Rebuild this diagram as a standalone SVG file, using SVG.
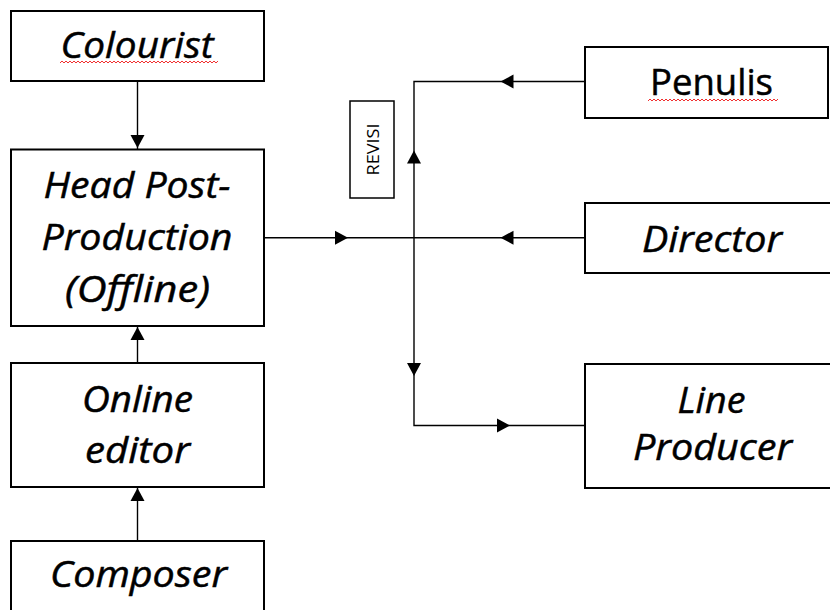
<svg xmlns="http://www.w3.org/2000/svg" xmlns:xlink="http://www.w3.org/1999/xlink" width="830" height="610" viewBox="0 0 830 610">
<style>
.box{fill:#fff;stroke:#000;stroke-width:2}
.lbl{font-family:"Open Sans","Noto Sans",sans-serif;font-size:37px;font-style:italic;fill:#000;stroke:#000;stroke-width:0.5;text-anchor:middle}
.up{font-style:normal}
.rev{font-family:"Open Sans","Noto Sans",sans-serif;font-size:16px;fill:#000;text-anchor:middle}
.con{fill:none;stroke:#000;stroke-width:1.4}
.sq{fill:none;stroke:#f03030;stroke-width:1}
</style>
<defs>
<path id="ah" d="M0,0 L-13,-7 L-13,7 Z" fill="#000"/>
</defs>
<rect width="830" height="610" fill="#fff"/>
<g id="connectors">
<line class="con" x1="137.5" y1="81" x2="137.5" y2="149"/>
<line class="con" x1="137.5" y1="363" x2="137.5" y2="326"/>
<line class="con" x1="137.5" y1="541" x2="137.5" y2="487"/>
<polyline class="con" points="585,81.5 414,81.5 414,425.5 585,425.5"/>
<line class="con" x1="264" y1="237.7" x2="585" y2="237.7"/>
<use xlink:href="#ah" transform="translate(137.5,148) rotate(90)"/>
<use xlink:href="#ah" transform="translate(137.5,327) rotate(-90)"/>
<use xlink:href="#ah" transform="translate(137.5,488) rotate(-90)"/>
<use xlink:href="#ah" transform="translate(500.5,81.5) rotate(180)"/>
<use xlink:href="#ah" transform="translate(414,150.5) rotate(-90)"/>
<use xlink:href="#ah" transform="translate(348,237.7)"/>
<use xlink:href="#ah" transform="translate(500.5,237.7) rotate(180)"/>
<use xlink:href="#ah" transform="translate(414,376) rotate(90)"/>
<use xlink:href="#ah" transform="translate(510,425.5)"/>
</g>
<g id="colourist">
<rect class="box" x="11" y="11" width="253" height="70"/>
<text class="lbl" x="137" y="58" textLength="153" lengthAdjust="spacingAndGlyphs">Colourist</text>
<polyline class="sq" points="60,63 62,61 64,63 66,61 68,63 70,61 72,63 74,61 76,63 78,61 80,63 82,61 84,63 86,61 88,63 90,61 92,63 94,61 96,63 98,61 100,63 102,61 104,63 106,61 108,63 110,61 112,63 114,61 116,63 118,61 120,63 122,61 124,63 126,61 128,63 130,61 132,63 134,61 136,63 138,61 140,63 142,61 144,63 146,61 148,63 150,61 152,63 154,61 156,63 158,61 160,63 162,61 164,63 166,61 168,63 170,61 172,63 174,61 176,63 178,61 180,63 182,61 184,63 186,61 188,63 190,61 192,63 194,61 196,63 198,61 200,63 202,61 204,63 206,61 208,63 210,61 212,63 214,61 216,63 218,61"/>
</g>
<g id="head">
<rect class="box" x="11" y="149.5" width="253" height="176.5"/>
<text class="lbl" x="137" y="198" textLength="187" lengthAdjust="spacingAndGlyphs">Head Post-</text>
<text class="lbl" x="137" y="250" textLength="191" lengthAdjust="spacingAndGlyphs">Production</text>
<text class="lbl" x="137.5" y="302" textLength="145" lengthAdjust="spacingAndGlyphs">(Offline)</text>
</g>
<g id="online">
<rect class="box" x="11" y="363" width="253" height="124"/>
<text class="lbl" x="137.5" y="412" textLength="111" lengthAdjust="spacingAndGlyphs">Online</text>
<text class="lbl" x="137.5" y="463" textLength="105" lengthAdjust="spacingAndGlyphs">editor</text>
</g>
<g id="composer">
<rect class="box" x="11" y="541" width="253" height="100"/>
<text class="lbl" x="138.5" y="587" textLength="177" lengthAdjust="spacingAndGlyphs">Composer</text>
</g>
<g id="revisi">
<rect fill="#fff" stroke="#000" stroke-width="1.5" x="350" y="101" width="44" height="97"/>
<text class="rev" transform="translate(378.5,149.5) rotate(-90)" textLength="52" lengthAdjust="spacingAndGlyphs">REVISI</text>
</g>
<g id="penulis">
<rect class="box" x="585" y="47" width="243" height="71"/>
<text class="lbl up" x="711.5" y="95" textLength="123" lengthAdjust="spacingAndGlyphs">Penulis</text>
<polyline class="sq" points="648,101 650,99 652,101 654,99 656,101 658,99 660,101 662,99 664,101 666,99 668,101 670,99 672,101 674,99 676,101 678,99 680,101 682,99 684,101 686,99 688,101 690,99 692,101 694,99 696,101 698,99 700,101 702,99 704,101 706,99 708,101 710,99 712,101 714,99 716,101 718,99 720,101 722,99 724,101 726,99 728,101 730,99 732,101 734,99 736,101 738,99 740,101 742,99 744,101 746,99 748,101 750,99 752,101 754,99 756,101 758,99 760,101 762,99 764,101 766,99 768,101 770,99 772,101 774,99 776,101 778,99"/>
</g>
<g id="director">
<rect class="box" x="585" y="203" width="260" height="70"/>
<text class="lbl" x="712" y="252" textLength="140" lengthAdjust="spacingAndGlyphs">Director</text>
</g>
<g id="lineproducer">
<rect class="box" x="585" y="364" width="260" height="124"/>
<text class="lbl" x="711.5" y="413" textLength="68" lengthAdjust="spacingAndGlyphs">Line</text>
<text class="lbl" x="712.5" y="460" textLength="159" lengthAdjust="spacingAndGlyphs">Producer</text>
</g>
</svg>
